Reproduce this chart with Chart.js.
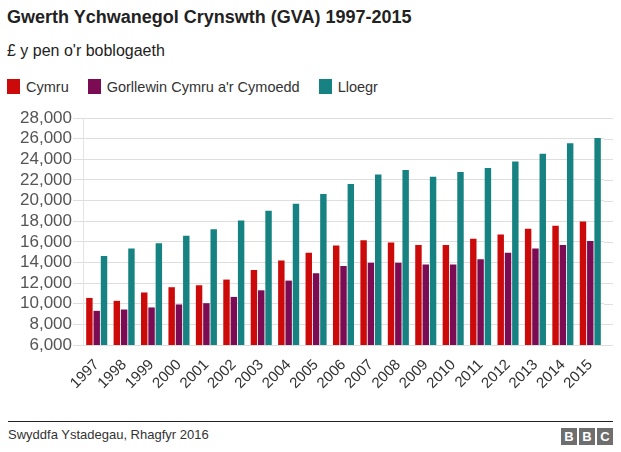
<!DOCTYPE html>
<html>
<head>
<meta charset="utf-8">
<script src="https://cdn.jsdelivr.net/npm/chart.js@4.4.1/dist/chart.umd.min.js"></script>
<style>
  body { margin: 0; width: 621px; height: 452px; background: #fff; font-family: "Liberation Sans", Arial, sans-serif; position: relative; overflow: hidden; }
  #title { position: absolute; left: 7px; top: 7px; font-size: 18px; font-weight: bold; color: #222; }
  #subtitle { position: absolute; left: 7px; top: 42px; font-size: 16px; color: #222; }
  #legend { position: absolute; left: 7px; top: 79px; font-size: 14.5px; color: #333; white-space: nowrap; }
  #legend .item { display: inline-block; margin-right: 19px; }
  #legend .box { display: inline-block; width: 13px; height: 15px; vertical-align: -2px; margin-right: 6px; }
  #chartBox { position: absolute; left: 0; top: 100px; width: 621px; height: 300px; }
  #rule { position: absolute; left: 8px; top: 421px; width: 605px; height: 0; border-top: 1px solid #222; }
  #source { position: absolute; left: 8px; top: 427px; font-size: 13px; color: #333; }
  #bbc { position: absolute; left: 559px; top: 427px; }
  #bbc span { display: inline-block; width: 16px; height: 17px; margin-left: 2px; background: #6e6e6e; color: #fff; font-weight: bold; font-size: 13px; line-height: 17px; text-align: center; }
</style>
</head>
<body>
<div id="title">Gwerth Ychwanegol Crynswth (GVA) 1997-2015</div>
<div id="subtitle">£ y pen o'r boblogaeth</div>
<div id="legend"></div>
<div id="chartBox"><canvas id="gvaChart"></canvas></div>
<div id="rule"></div>
<div id="source">Swyddfa Ystadegau, Rhagfyr 2016</div>
<div id="bbc"><span>B</span><span>B</span><span>C</span></div>
<script>
//Data
const years = ['1997', '1998', '1999', '2000', '2001', '2002', '2003', '2004', '2005', '2006',
  '2007', '2008', '2009', '2010', '2011', '2012', '2013', '2014', '2015'];
const cymru = [10560, 10280, 11090, 11600, 11790, 12340, 13270, 14200, 14950, 15650,
  16160, 15940, 15680, 15680, 16300, 16710, 17260, 17550, 17970];
const gorllewin = [9310, 9440, 9640, 9930, 10050, 10660, 11300, 12240, 12950, 13650,
  13980, 13980, 13790, 13790, 14300, 14950, 15360, 15680, 16070];
const lloegr = [14620, 15360, 15870, 16590, 17220, 18060, 19000, 19700, 20640, 21600,
  22530, 22950, 22310, 22760, 23150, 23790, 24530, 25560, 26070];
const seriesNames = ['Cymru', "Gorllewin Cymru a'r Cymoedd", 'Lloegr'];
const colours = ['#cc0a0a', '#7b0b52', '#168282'];

const gvaChart = document.getElementById('gvaChart');
const legendBox = document.getElementById('legend');

//Legend
seriesNames.forEach((name, i) => {
  legendBox.innerHTML += '<span class="item"><span class="box" style="background:' + colours[i] + '"></span>' + name + '</span>';
});

const makeSet = (label, data, colour) => ({
  label: label,
  data: data,
  backgroundColor: colour,
  borderWidth: 0,
  categoryPercentage: 0.8,
  barPercentage: 0.88
});

//gridlines run on a little past the last bar group
const gridTail = {
  id: 'gridTail',
  beforeDatasetsDraw(chart) {
    const ctx = chart.ctx;
    const area = chart.chartArea;
    const y = chart.scales.y;
    ctx.save();
    ctx.strokeStyle = '#dedede';
    ctx.lineWidth = 1;
    y.ticks.forEach((t) => {
      const py = Math.round(y.getPixelForValue(t.value)) + 0.5;
      ctx.beginPath();
      ctx.moveTo(area.right, py);
      ctx.lineTo(area.right + 9, py);
      ctx.stroke();
    });
    ctx.restore();
  }
};

let chart = new Chart(gvaChart, {
  type: 'bar',
  data: {
    labels: years,
    datasets: [
      makeSet(seriesNames[0], cymru, colours[0]),
      makeSet(seriesNames[1], gorllewin, colours[1]),
      makeSet(seriesNames[2], lloegr, colours[2])
    ]
  },
  plugins: [gridTail],
  options: {
    responsive: true,
    maintainAspectRatio: false,
    animation: false,
    layout: { padding: { left: 0, right: 17, top: 18, bottom: 0 } },
    plugins: {
      tooltip: { enabled: false },
      legend: { display: false }
    },
    scales: {
      x: {
        grid: { display: false },
        border: { display: false },
        afterFit: (scale) => { scale.height = 55; },
        ticks: {
          autoSkip: false,
          minRotation: 45,
          maxRotation: 45,
          color: '#333',
          font: { family: 'Liberation Sans', size: 15 }
        }
      },
      y: {
        min: 6000,
        max: 28000,
        afterFit: (scale) => { scale.width = 83; },
        ticks: {
          autoSkip: false,
          stepSize: 2000,
          color: '#555',
          padding: 1,
          font: { family: 'Liberation Sans', size: 17 },
          callback: (v) => v.toLocaleString('en-GB')
        },
        grid: { color: '#dedede', tickLength: 10 },
        border: { color: '#e4e4e4' }
      }
    }
  }
});
</script>
</body>
</html>
